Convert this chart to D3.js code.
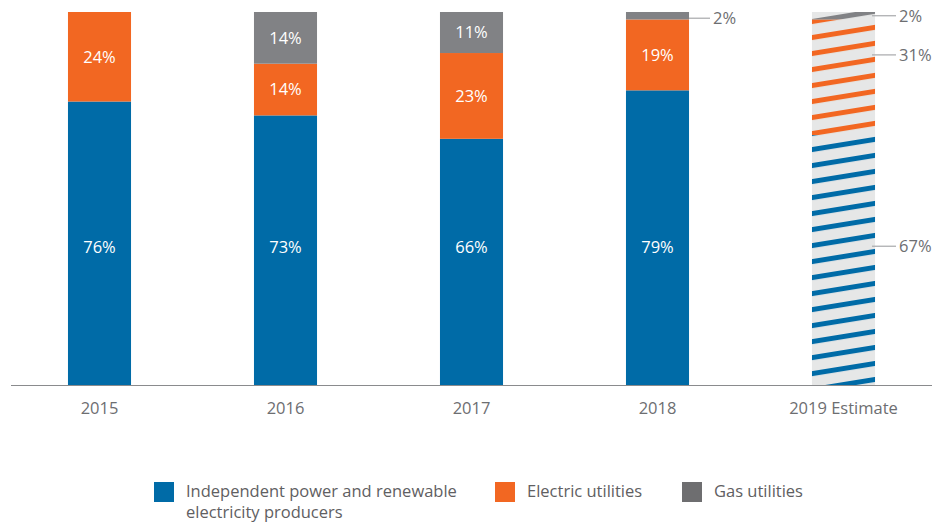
<!DOCTYPE html>
<html>
<head>
<meta charset="utf-8">
<script src="https://cdn.jsdelivr.net/npm/d3@7/dist/d3.min.js"></script>
<style>
  html, body { margin: 0; padding: 0; background: #fff; }
  svg { display: block; font-family: "Open Sans", "Roboto", sans-serif; }
</style>
</head>
<body>
<svg id="chart" width="932" height="525"></svg>
<script>
// Share of capacity by owner type, per year (percent)
const years = ["2015", "2016", "2017", "2018", "2019 Estimate"];
const independent = [76, 73, 66, 79, 67];
const electric = [24, 14, 23, 19, 31];
const gas = [0, 14, 11, 2, 2];
const estimated = [false, false, false, false, true];

const seriesNames = ["Independent power and renewable\nelectricity producers", "Electric utilities", "Gas utilities"];
const seriesKeys = ["independent", "electric", "gas"];
const colors = { independent: "#006ba7", electric: "#f26722", gas: "#818285" };
const legendColors = { independent: "#006ba7", electric: "#f26722", gas: "#6e6e70" };

// Values printed outside the bar with a leader line
const outsideLabels = [
  { year: "2018", key: "gas" },
  { year: "2019 Estimate", key: "gas" },
  { year: "2019 Estimate", key: "electric" },
  { year: "2019 Estimate", key: "independent" }
];

const rows = years.map((y, i) => ({
  year: y,
  independent: independent[i],
  electric: electric[i],
  gas: gas[i],
  estimate: estimated[i]
}));

const svg = d3.select("#chart");
const FS = 16.5;

const x = d3.scaleBand()
  .domain(years)
  .range([6.5, 936.5])
  .paddingInner(0.661)
  .paddingOuter(0.3305);

const y = d3.scaleLinear().domain([0, 1]).range([385, 12]);

// each stack is scaled to its own total so every column fills the full height
const stacked = rows.map(r => {
  const total = r.independent + r.electric + r.gas;
  let acc = 0;
  const segs = seriesKeys.map(k => {
    const s = { key: k, value: r[k], y0: acc / total, y1: (acc + r[k]) / total };
    acc += r[k];
    return s;
  });
  return { year: r.year, estimate: r.estimate, segs };
});

// hatch patterns for the estimated column
const defs = svg.append("defs");
seriesKeys.forEach(k => {
  const p = defs.append("pattern")
    .attr("id", "hatch-" + k)
    .attr("patternUnits", "userSpaceOnUse")
    .attr("width", 20)
    .attr("height", 15.8)
    .attr("patternTransform", "translate(0,3) rotate(-9.2)");
  p.append("rect").attr("width", 20).attr("height", 15.8).attr("fill", "#e6e7e7");
  p.append("rect").attr("y", 0).attr("width", 20).attr("height", 5).attr("fill", colors[k]);
});

const gBars = svg.append("g");
stacked.forEach(col => {
  const g = gBars.append("g").attr("transform", `translate(${x(col.year)},0)`);
  if (col.estimate) {
    g.append("rect")
      .attr("x", 0).attr("width", x.bandwidth())
      .attr("y", y(1)).attr("height", y(0) - y(1))
      .attr("fill", "#e6e7e7");
  }
  g.selectAll("rect.seg")
    .data(col.segs.filter(s => s.value > 0))
    .join("rect")
    .attr("class", "seg")
    .attr("x", 0)
    .attr("width", x.bandwidth())
    .attr("y", d => y(d.y1))
    .attr("height", d => y(d.y0) - y(d.y1))
    .attr("fill", d => col.estimate ? `url(#hatch-${d.key})` : colors[d.key]);

  // labels inside the bars
  if (!col.estimate) {
    col.segs.forEach(s => {
      if (s.value <= 0) return;
      if (outsideLabels.some(o => o.year === col.year && o.key === s.key)) return;
      const cy = s.key === "independent" ? y(0.37) : (y(s.y0) + y(s.y1)) / 2;
      g.append("text")
        .attr("x", x.bandwidth() / 2)
        .attr("y", cy)
        .attr("dy", "0.36em")
        .attr("text-anchor", "middle")
        .attr("fill", "#ffffff")
        .attr("font-size", FS)
        .text(s.value + "%");
    });
  }
});

// leader-line labels beside the bars
const labelY = { electric: y(0.885), independent: y(0.372) };
outsideLabels.forEach(o => {
  const col = stacked.find(c => c.year === o.year);
  const s = col.segs.find(d => d.key === o.key);
  const x0 = x(o.year) + x.bandwidth();
  const ly = o.key === "gas"
    ? (y(s.y0) + y(s.y1)) / 2 + (col.estimate ? 0 : 2.5)
    : labelY[o.key];
  svg.append("line")
    .attr("x1", x0 + (col.estimate ? -3 : 0)).attr("x2", x0 + 21)
    .attr("y1", ly).attr("y2", ly)
    .attr("stroke", "#aeafb1").attr("stroke-width", 1.3);
  svg.append("text")
    .attr("x", x0 + 24)
    .attr("y", ly)
    .attr("dy", "0.36em")
    .attr("fill", "#6d6e71")
    .attr("font-size", FS)
    .text(s.value + "%");
});

// baseline and category axis
const xAxis = d3.axisBottom(x).tickSize(0).tickPadding(17);
const ax = svg.append("g").attr("transform", `translate(0,${y(0)})`).call(xAxis);
ax.select(".domain").remove();
ax.selectAll("text")
  .attr("font-size", FS)
  .attr("fill", "#6d6e71")
  .attr("font-family", "'Open Sans', sans-serif");
svg.append("line")
  .attr("x1", 11).attr("x2", 932)
  .attr("y1", y(0) + 0.5).attr("y2", y(0) + 0.5)
  .attr("stroke", "#8a8b8d").attr("stroke-width", 1.2);

// legend
const legendPos = [154, 495, 682];
const legend = svg.append("g");
seriesKeys.forEach((k, i) => {
  const lg = legend.append("g").attr("transform", `translate(${legendPos[i]},482)`);
  lg.append("rect").attr("width", 20).attr("height", 20).attr("fill", legendColors[k]);
  const t = lg.append("text")
    .attr("x", 32).attr("y", 15)
    .attr("fill", "#5f6062")
    .attr("font-size", FS);
  seriesNames[i].split("\n").forEach((line, j) => {
    t.append("tspan").attr("x", 32).attr("dy", j === 0 ? 0 : 21).text(line);
  });
});
</script>
</body>
</html>
